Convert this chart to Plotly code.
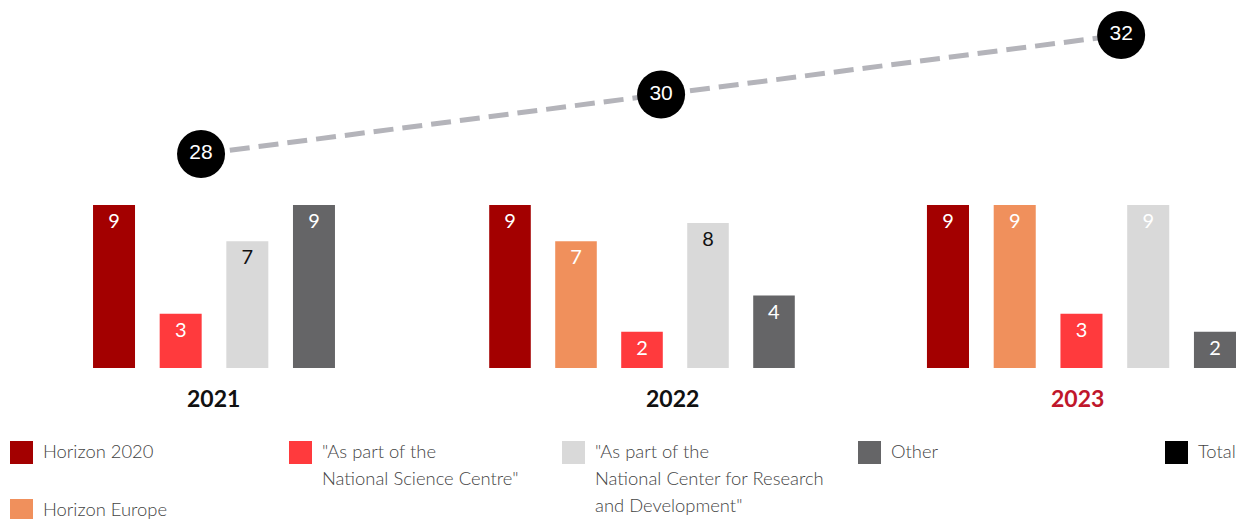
import plotly.graph_objects as go

# ---------------- data ----------------
years = ["2021", "2022", "2023"]
series_names = [
    "Horizon 2020",
    "Horizon Europe",
    '"As part of the National Science Centre"',
    '"As part of the National Center for Research and Development"',
    "Other",
]
legend_lines = [
    ["Horizon 2020"],
    ["Horizon Europe"],
    ['"As part of the', 'National Science Centre"'],
    ['"As part of the', "National Center for Research", 'and Development"'],
    ["Other"],
]
horizon_2020 = [9, 9, 9]
horizon_europe = [None, 7, 9]
national_science_centre = [3, 2, 3]
national_center_rd = [7, 8, 9]
other = [9, 4, 2]
totals = [28, 30, 32]
total_name = "Total"

series_values = [horizon_2020, horizon_europe, national_science_centre, national_center_rd, other]

# ---------------- style ----------------
colors = ["#a30000", "#f0905c", "#ff3a3d", "#d9d9d9", "#656567"]
label_colors = [
    ["#ffffff"] * 3,
    ["#ffffff"] * 3,
    ["#ffffff"] * 3,
    ["#111111", "#111111", "#ffffff"],
    ["#ffffff"] * 3,
]
year_colors = ["#111111", "#111111", "#c0172b"]

W, H = 1238, 519


def px(x):
    return x / W


def py(y):
    return 1 - y / H


fig = go.Figure()

year_axes = ["x", "x2", "x3"]
for s_i, name in enumerate(series_names):
    vals = series_values[s_i]
    for y_i, yr in enumerate(years):
        v = vals[y_i]
        if v is None:
            continue
        fig.add_trace(go.Bar(
            x=[name], y=[v], xaxis=year_axes[y_i], yaxis="y",
            name=name, legendgroup=name, showlegend=False,
            marker=dict(color=colors[s_i], line=dict(width=0)),
            width=0.63,
            text=[str(v)], textposition="inside", insidetextanchor="end",
            textangle=0, constraintext="none",
            textfont=dict(family="Lato", size=20, color=label_colors[s_i][y_i]),
            hoverinfo="x+y",
        ))

fig.add_trace(go.Scatter(
    x=years, y=totals, xaxis="x4", yaxis="y2", name=total_name,
    mode="lines+markers+text", text=[str(t) for t in totals],
    textposition="middle center",
    textfont=dict(family="Liberation Sans, Arial", size=21, color="#ffffff"),
    marker=dict(size=48, color="#000000", line=dict(width=0)),
    line=dict(color="#b4b4ba", width=5, dash="20px,9px"),
    cliponaxis=False, showlegend=False,
))

# categories present per year
cats = [[series_names[s] for s in range(len(series_names)) if series_values[s][y] is not None]
        for y in range(len(years))]

axis_common = dict(showgrid=False, zeroline=False, showticklabels=False, showline=False,
                   ticks="", type="category", categoryorder="array", fixedrange=True)

slot3 = 66.75
x3_left = 914.6
fig.update_layout(
    width=W, height=H,
    margin=dict(l=0, r=0, t=0, b=0),
    paper_bgcolor="white", plot_bgcolor="rgba(0,0,0,0)",
    barmode="overlay",
    showlegend=False,
    xaxis=dict(domain=[px(80.7), px(347.3)], range=[-0.5, 3.5], anchor="y",
               categoryarray=cats[0], **axis_common),
    xaxis2=dict(domain=[px(477), px(807)], range=[-0.5, 4.5], anchor="y",
                categoryarray=cats[1], **axis_common),
    xaxis3=dict(domain=[px(x3_left), 1], range=[-0.5, -0.5 + (W - x3_left) / slot3], anchor="y",
                categoryarray=cats[2], **axis_common),
    xaxis4=dict(domain=[0, 1], range=[-0.437, 2.254], anchor="y2",
                categoryarray=years, **axis_common),
    yaxis=dict(domain=[py(368), 1], range=[0, 9 * 368 / 163], showgrid=False, zeroline=False,
               showticklabels=False, visible=False, fixedrange=True),
    yaxis2=dict(domain=[0, 1], range=[28 - (H - 154) / 29.75, 28 + 154 / 29.75], showgrid=False,
                zeroline=False, showticklabels=False, visible=False, fixedrange=True),
    font=dict(family="Lato"),
)

annotations = []
shapes = []

# year labels
year_label_x = [213, 672, 1077]
for yr, xc, col in zip(years, year_label_x, year_colors):
    annotations.append(dict(text=f"<b>{yr}</b>", x=px(xc), y=py(398), xref="paper", yref="paper",
                            xanchor="center", yanchor="middle", showarrow=False,
                            font=dict(family="Lato", size=23, color=col)))

# legend (manual)
legend_pos = [(10, 441), (10, 499), (289, 441), (562, 441), (858, 441)]
legend_items = [(legend_lines[i], colors[i], legend_pos[i]) for i in range(len(series_names))]
legend_items.append(([total_name], "#000000", (1165, 441)))
for lines, col, (lx, ly) in legend_items:
    shapes.append(dict(type="rect", xref="paper", yref="paper",
                       x0=px(lx), x1=px(lx + 23), y0=py(ly), y1=py(ly + 23),
                       fillcolor=col, line=dict(width=0)))
    for k, t in enumerate(lines):
        annotations.append(dict(text=t, x=px(lx + 31), y=py(ly + 10 + 27 * k), xref="paper", yref="paper",
                                xanchor="left", yanchor="middle", showarrow=False,
                                font=dict(family="Lato", size=18.4, color="#444444", weight=300)))

fig.update_layout(annotations=annotations, shapes=shapes)

fig.write_html(
    "out.html",
    config={"displayModeBar": False},
    post_script="document.body.style.margin='0';document.body.style.overflow='hidden';",
)
